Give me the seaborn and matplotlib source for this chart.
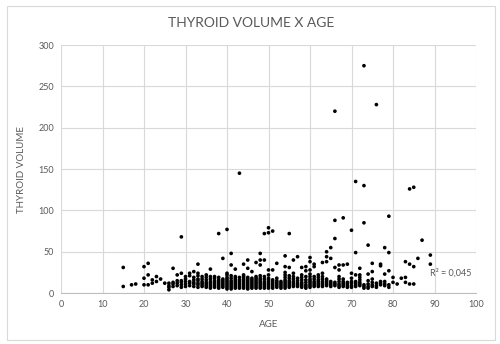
import matplotlib
matplotlib.use("Agg")
import matplotlib.pyplot as plt
import seaborn as sns
import pandas as pd
from matplotlib.patches import Rectangle

# ---- data ----
outlier_ages = [15, 15, 17, 18, 20, 21, 20, 20, 21, 21, 22, 22, 23, 23, 24, 25,
                27, 28, 29, 29, 30, 31, 32, 33, 33, 34, 35, 36, 38, 39, 40, 40,
                41, 41, 42, 43, 44, 45, 45, 46, 47, 48, 48, 48, 49, 49, 50, 50,
                50, 51, 51, 52, 54, 54, 55, 55, 56, 57, 58, 59, 59, 60, 60, 60,
                61, 61, 63, 64, 64, 64, 65, 65, 66, 66, 66, 66, 67, 67, 68, 68,
                69, 70, 70, 71, 71, 71, 72, 72, 73, 73, 73, 74, 74, 75, 75, 76,
                77, 77, 78, 78, 79, 79, 79, 80, 80, 81, 82, 83, 83, 83, 84, 84,
                84, 85, 85, 85, 86, 87, 89, 89]
outlier_volumes = [31, 8, 10, 11, 32, 36, 18, 10, 22, 10, 16, 12, 20, 14, 17, 12,
                   30, 22, 68, 24, 17, 24, 26, 35, 24, 20, 22, 29, 72, 42, 77, 24,
                   48, 34, 29, 145, 35, 40, 30, 26, 37, 48, 40, 34, 72, 40, 79, 73,
                   28, 75, 28, 36, 45, 32, 72, 31, 40, 44, 31, 32, 27, 43, 38, 28,
                   35, 32, 37, 50, 44, 38, 55, 42, 220, 88, 66, 31, 34, 28, 91, 34,
                   35, 76, 24, 135, 49, 22, 30, 22, 275, 130, 85, 58, 23, 36, 26, 228,
                   35, 33, 55, 23, 93, 49, 27, 19, 13, 11, 18, 38, 19, 13, 126, 35,
                   11, 128, 32, 11, 42, 64, 46, 35]

cluster_ages = list(range(26, 80))
cluster_volumes = [
    [4, 7, 9, 12], [8, 11, 13], [9, 12, 15], [7, 10, 13, 15], [8, 11, 14, 20],
    [9, 12, 14, 21], [8, 11, 13, 16, 19], [7, 10, 12, 15, 17, 21], [8, 10, 12, 14, 17],
    [7, 9, 11, 13, 16, 19], [6, 8, 10, 12, 14, 17, 20], [7, 9, 11, 13, 15, 18, 20],
    [6, 8, 10, 12, 14, 16, 19], [7, 9, 11, 13, 15, 17], [5, 7, 9, 11, 13, 15, 17, 19, 22],
    [5, 7, 9, 11, 13, 15, 18, 21], [6, 8, 10, 12, 14, 16, 18, 20], [6, 8, 10, 12, 14, 16, 19],
    [6, 8, 10, 12, 14, 16, 18, 20, 22], [5, 7, 9, 11, 13, 15, 17, 19], [6, 8, 10, 12, 14, 16, 18],
    [6, 8, 10, 12, 14, 16, 18, 20], [6, 8, 10, 12, 14, 16, 18, 21], [6, 8, 10, 12, 14, 17, 20],
    [6, 8, 10, 12, 14, 16, 18, 22], [6, 8, 10, 12, 14, 16], [7, 9, 11, 13, 15, 18],
    [6, 8, 10, 12, 14], [6, 8, 10, 12, 14, 16, 19, 22, 25], [7, 9, 11, 13, 15, 18, 21],
    [8, 10, 12, 14, 17, 20, 24], [8, 10, 12, 15, 18], [7, 9, 11, 13, 16, 19, 22],
    [6, 8, 10, 13, 16, 20], [7, 9, 11, 13, 15, 17, 20, 23], [8, 10, 12, 14, 17, 20],
    [8, 10, 12, 14, 16, 19, 22], [8, 10, 12, 14, 17, 20, 24], [9, 11, 13, 15, 17],
    [8, 10, 12, 14], [9, 11, 13], [7, 9, 11, 14, 17, 20], [8, 10, 12, 14, 17],
    [7, 9, 11, 13], [7, 9, 12, 14, 18], [8, 10, 12, 14], [9, 11, 13, 16, 19],
    [6, 8, 10], [6, 8, 11, 15], [8, 10, 13, 17], [7, 9, 12], [10, 12, 14],
    [9, 11, 14], [7, 10],
]

x_ticks = [0, 10, 20, 30, 40, 50, 60, 70, 80, 90, 100]
y_ticks = [0, 50, 100, 150, 200, 250, 300]
title = "THYROID VOLUME X AGE"
x_label = "AGE"
y_label = "THYROID VOLUME"
r2_text = "R² = 0,045"

# ---- build table ----
ages = list(outlier_ages)
vols = list(outlier_volumes)
for a, vs in zip(cluster_ages, cluster_volumes):
    ages.extend([a] * len(vs))
    vols.extend(vs)
df = pd.DataFrame({"age": ages, "volume": vols})

sns.set_theme(style="white")
plt.rcParams["font.family"] = ["Lato", "DejaVu Sans"]

fig = plt.figure(figsize=(5.0, 3.44), dpi=100)
fig.patches.append(Rectangle((0.014, 0.012), 0.976, 0.97, transform=fig.transFigure,
                             fill=False, edgecolor="#d9d9d9", linewidth=0.8))
ax = fig.add_axes([0.122, 0.148, 0.830, 0.721])

sns.scatterplot(data=df, x="age", y="volume", ax=ax, color="black", s=7,
                edgecolor="none", zorder=3)

ax.set_xlim(0, 100)
ax.set_ylim(0, 300)
ax.set_xticks(x_ticks)
ax.set_yticks(y_ticks)
ax.grid(True, color="#d9d9d9", linewidth=0.8, zorder=0)
ax.set_axisbelow(True)
for s in ["top", "right", "left"]:
    ax.spines[s].set_visible(False)
ax.spines["bottom"].set_color("#bfbfbf")
ax.spines["bottom"].set_linewidth(0.8)
ax.tick_params(axis="both", labelsize=6.5, colors="#595959", length=0, pad=5)

ax.set_xlabel(x_label, fontsize=7, color="#595959", labelpad=8)
ax.set_ylabel(y_label, fontsize=7, color="#595959", labelpad=9)
fig.text(0.502, 0.933, title, ha="center", va="center", fontsize=10, color="#595959")
ax.text(89, 24, r2_text, fontsize=6.5, color="#595959", va="center", ha="left")

fig.savefig("out.png", dpi=100)
